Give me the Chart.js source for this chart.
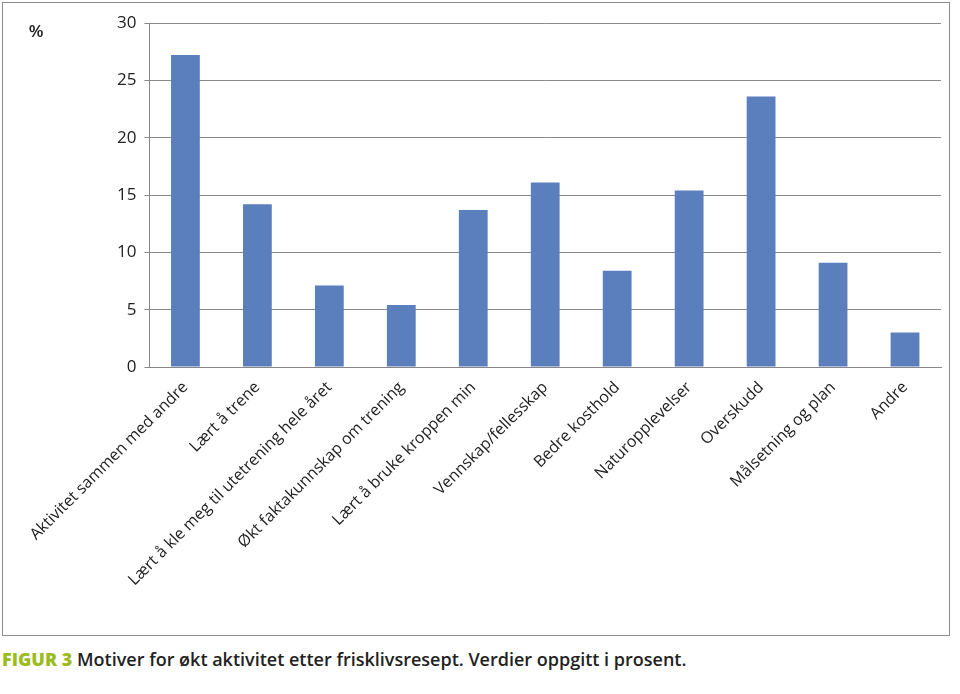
<!DOCTYPE html>
<html>
<head>
<meta charset="utf-8">
<script src="https://cdn.jsdelivr.net/npm/chart.js@4"></script>
<style>
  body { margin: 0; background: #fff; font-family: "Open Sans", sans-serif; }
  #box { position: absolute; left: 2px; top: 2px; width: 946px; height: 632px; border: 1px solid #8c8c8c; }
  #pct { position: absolute; left: 26px; top: 20px; font: bold 16px "Liberation Sans", sans-serif; color: #222; }
  #cap { position: absolute; left: 2px; top: 647px; font: 600 18px "Open Sans", sans-serif; color: #222; }
  #cap b { color: #9cbc1c; }
</style>
</head>
<body>
<div id="box">
  <canvas id="myChart" width="946" height="632"></canvas>
  <div id="pct">%</div>
</div>
<div id="cap"><b>FIGUR 3</b> Motiver for økt aktivitet etter frisklivsresept. Verdier oppgitt i prosent.</div>
<script>
const categories = ['Aktivitet sammen med andre', 'Lært å trene', 'Lært å kle meg til utetrening hele året',
  'Økt faktakunnskap om trening', 'Lært å bruke kroppen min', 'Vennskap/fellesskap', 'Bedre kosthold',
  'Naturopplevelser', 'Overskudd', 'Målsetning og plan', 'Andre']
const values = [27.2, 14.2, 7.1, 5.4, 13.7, 16.1, 8.4, 15.4, 23.6, 9.1, 3.0]

const ctx = document.getElementById('myChart').getContext('2d')
new Chart(ctx, {
  type: 'bar',
  data: {
    labels: categories,
    datasets: [{
      data: values,
      backgroundColor: '#5b7fbd',
      categoryPercentage: 1,
      barPercentage: 0.4
    }]
  },
  options: {
    responsive: false,
    animation: false,
    layout: { padding: { top: 20, right: 8, left: 106 } },
    scales: {
      x: {
        grid: { display: false },
        border: { color: '#888' },
        afterFit: (axis) => { axis.height = 268 },
        ticks: { color: '#222', maxRotation: 45, minRotation: 45, font: { family: 'Open Sans', size: 16 } }
      },
      y: {
        min: 0, max: 30,
        ticks: { stepSize: 5, color: '#222', font: { family: 'Open Sans', size: 17 }, padding: 8 },
        grid: { color: '#8a8a8a', drawTicks: true, tickLength: 5 },
        border: { color: '#888' }
      }
    },
    plugins: { legend: { display: false }, tooltip: { enabled: false } }
  }
})
</script>
</body>
</html>
